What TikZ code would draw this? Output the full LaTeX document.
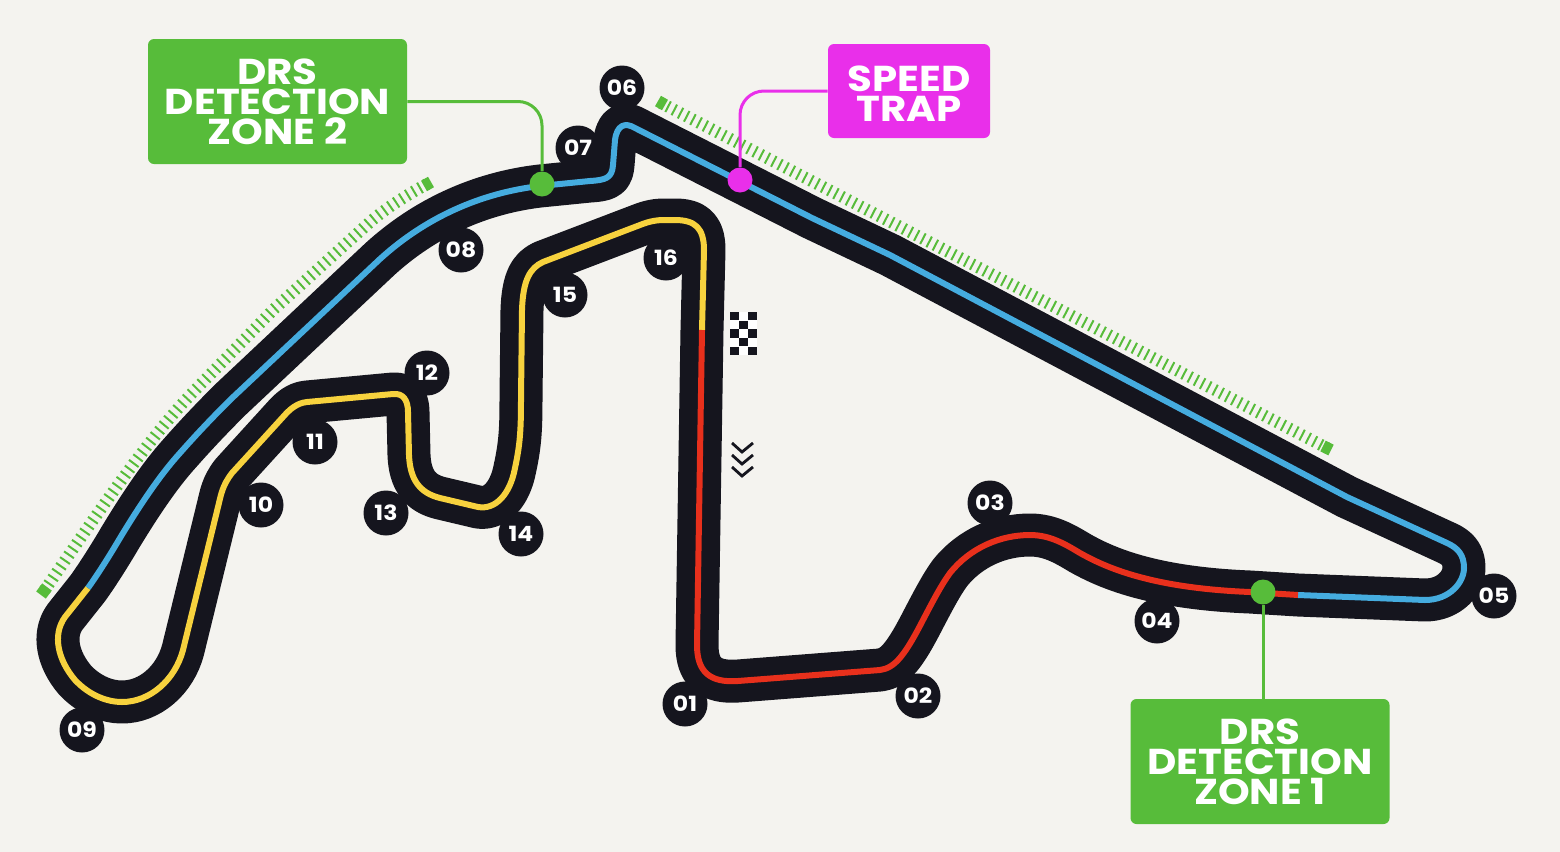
\documentclass[tikz,border=0pt]{standalone}
\usepackage{fontspec}
\setmainfont{Poppins}[FakeStretch=1.12]
\definecolor{pagebg}{HTML}{F4F3EF}
\definecolor{asphalt}{HTML}{15151E}
\definecolor{drsgreen}{HTML}{57BC3A}
\definecolor{trapmagenta}{HTML}{E92FEA}
\definecolor{sectorred}{HTML}{E8301C}
\definecolor{sectorblue}{HTML}{45ACDF}
\definecolor{sectoryellow}{HTML}{F7D23E}
\tikzset{
    track/.style={draw=asphalt, line width=21.5pt, line join=round},
    sector/.style={line width=3pt, line join=round},
    strip/.style={draw=drsgreen, line width=6pt, dash pattern=on 1pt off 2.5pt},
    stripend/.style={draw=drsgreen, line width=6pt},
    turn/.style={circle, fill=asphalt, text=white, minimum size=22.5pt, inner sep=0pt,
        font=\bfseries\fontsize{10.5}{10.5}\selectfont},
    infobox/.style={rounded corners=3pt, text=white, align=center, inner sep=0pt,
        font=\bfseries\fontsize{18}{15}\selectfont},
    dot/.style={circle, minimum size=12.5pt, inner sep=0pt},
    leader/.style={line width=1.5pt, rounded corners=12pt},
}
% sectors of the centre line
\def\redpart{(702,330) -- (697,645) .. controls (697,672) and (710,683) .. (738,681)
    -- (880,670) .. controls (895,668) and (905,655) .. (923,620)
    .. controls (935,597) and (942,584) .. (950,573)
    .. controls (970,548) and (1000,535) .. (1030,535)
    .. controls (1050,535) and (1065,544) .. (1080,553)
    .. controls (1105,567) and (1150,588) .. (1250,592) -- (1298,595)}
\def\bluepart{(1298,595) -- (1425,600) .. controls (1450,600) and (1464,582) .. (1464,568)
    .. controls (1464,555) and (1458,548) .. (1447,543) -- (1347,497) -- (890,255)
    -- (812,218) -- (635,128) .. controls (625,122) and (617,125) .. (615,140)
    -- (613,165) .. controls (612,178) and (606,180) .. (590,181) -- (540,186)
    .. controls (480,193) and (425,218) .. (380,259) -- (297,337) -- (230,400)
    .. controls (210,420) and (195,436) .. (180,453)
    .. controls (160,475) and (140,505) .. (120,538)
    .. controls (110,555) and (98,574) .. (88,588)}
\def\yellowpart{(88,588) -- (65,617) .. controls (52,635) and (58,660) .. (75,680)
    .. controls (90,696) and (108,702) .. (122,702) .. controls (150,702) and (175,680) .. (183,650)
    -- (218,507) .. controls (221,495) and (222,486) .. (232,473) -- (283,417)
    .. controls (290,409) and (297,403) .. (307,402) -- (393,394)
    .. controls (403,393) and (408,400) .. (408,412) -- (409,455)
    .. controls (410,480) and (420,493) .. (440,498) -- (478,507)
    .. controls (495,510) and (510,495) .. (515,468) .. controls (520,445) and (521,430) .. (521,400)
    -- (522,310) .. controls (523,280) and (530,268) .. (543,262) -- (640,225)
    .. controls (650,221) and (657,220) .. (665,220) -- (675,220)
    .. controls (695,220) and (704,228) .. (704,250) -- (702,330)}
\begin{document}
\begin{tikzpicture}[x=0.5pt, y=-0.5pt]
    \useasboundingbox (0,0) rectangle (1560,852);
    \fill[pagebg] (0,0) rectangle (1560,852);

    % DRS strips
    \draw[strip] (427,184) .. controls (405,196) and (385,209) .. (370,222) -- (273,310) -- (200,385)
        .. controls (150,435) and (100,510) .. (44,591);
    \draw[strip] (661,103) -- (1327,448);
    \draw[stripend] (424,186) -- (431,182);
    \draw[stripend] (41,595) -- (47,587);
    \draw[stripend] (658,101) -- (665,105);
    \draw[stripend] (1323,446) -- (1331,450);

    % Track
    \draw[track] \redpart -- \bluepart -- \yellowpart -- cycle;
    \draw[sector, sectoryellow] \yellowpart;
    \draw[sector, sectorblue] \bluepart;
    \draw[sector, sectorred] \redpart;

    % Turn numbers
    \foreach \tnum/\tx/\ty in {01/685/704, 02/918/696, 03/990/503, 04/1157/621,
        05/1494/596, 06/622/88, 07/578/148, 08/461/250, 09/82/730, 10/261/505,
        11/315/442, 12/427/373, 13/386/513, 14/521/534, 15/565/295, 16/666/258}
        \node[turn] (t\tnum) at (\tx,\ty) {\tnum};

    % Chequered flag
    \fill[white] (730,312) rectangle (757,355);
    \foreach \cx/\cy in {0/0, 2/0, 1/1, 0/2, 2/2, 1/3, 0/4, 2/4}
        \fill[asphalt] (730+\cx*9,312+\cy*8.7) rectangle ++(8.6,8.3);

    % Direction chevrons
    \foreach \cy in {443,455,467}
        \draw[asphalt, line width=1.4pt] (732,\cy) -- (742,\cy+9) -- (753,\cy);

    % Boxes
    \node[infobox, fill=drsgreen, minimum width=129.5pt, minimum height=62.5pt] (drs2) at (277.5,101.5) {DRS\\DETECTION\\ZONE 2};
    \node[infobox, fill=drsgreen, minimum width=129.5pt, minimum height=62.5pt] (drs1) at (1260,761.5) {DRS\\DETECTION\\ZONE 1};
    \node[infobox, fill=trapmagenta, minimum width=81pt, minimum height=47pt] (trap) at (909,91) {\rule{0pt}{15pt}SPEED\\TRAP};

    % Markers
    \node[dot, fill=drsgreen] (dot2) at (542,184) {};
    \node[dot, fill=drsgreen] (dot1) at (1263,592) {};
    \node[dot, fill=trapmagenta] (dottrap) at (740,180) {};

    % Leaders
    \draw[leader, drsgreen] (drs2.east) -| (dot2);
    \draw[leader, trapmagenta] (trap.west) -| (dottrap);
    \draw[leader, drsgreen] (dot1) -- (dot1 |- drs1.north);
\end{tikzpicture}
\end{document}
